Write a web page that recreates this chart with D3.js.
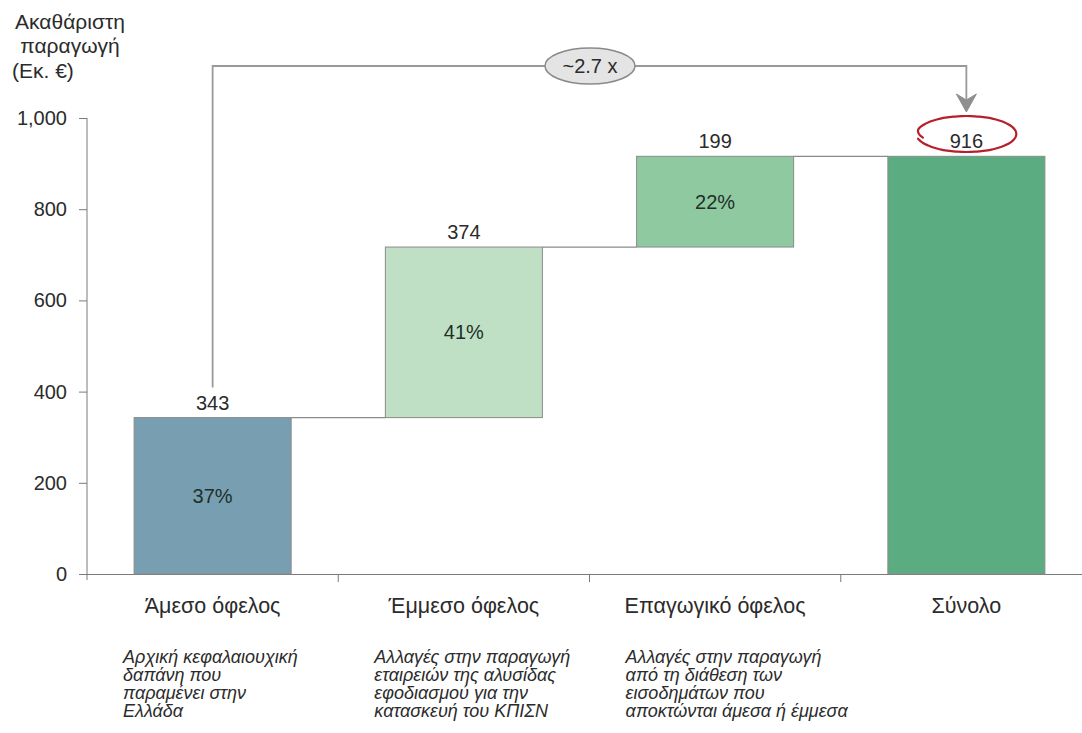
<!DOCTYPE html>
<html>
<head>
<meta charset="utf-8">
<script src="https://cdn.jsdelivr.net/npm/d3@7"></script>
<style>
  html, body { margin: 0; padding: 0; background: #fff; }
  svg { display: block; font-family: "Liberation Sans", Arial, sans-serif; }
</style>
</head>
<body>
<svg id="chart" width="1082" height="733"></svg>
<script>
const categories = ["Άμεσο όφελος", "Έμμεσο όφελος", "Επαγωγικό όφελος", "Σύνολο"];
const values = [343, 374, 199, 916];
const isTotal = [false, false, false, true];
const shares = ["37%", "41%", "22%", ""];
const barColors = ["#789fb1", "#bfe0c5", "#8fc9a0", "#5bad81"];
const descriptions = [
  ["Αρχική κεφαλαιουχική", "δαπάνη που", "παραμένει στην", "Ελλάδα"],
  ["Αλλαγές στην παραγωγή", "εταιρειών της αλυσίδας", "εφοδιασμού για την", "κατασκευή του ΚΠΙΣΝ"],
  ["Αλλαγές στην παραγωγή", "από τη διάθεση των", "εισοδημάτων που", "αποκτώνται άμεσα ή έμμεσα"],
  []
];
const yTicks = [0, 200, 400, 600, 800, 1000];
const yTitle = ["Ακαθάριστη", "παραγωγή", "(Εκ. €)"];
const multiplierLabel = "~2.7 x";

const svg = d3.select("#chart");
const x = d3.scaleBand().domain(categories).range([87, 1092]).paddingInner(0.375).paddingOuter(0.1875);
const y = d3.scaleLinear().domain([0, 1000]).range([574, 118]);

// compute waterfall bases
let cum = 0;
const bars = categories.map((c, i) => {
  let base, top;
  if (isTotal[i]) { base = 0; top = values[i]; }
  else { base = cum; top = cum + values[i]; cum = top; }
  return { cat: c, base, top, value: values[i], share: shares[i], color: barColors[i], desc: descriptions[i] };
});

const textColor = "#2b2b2b";
const axisColor = "#7a7a7a";

// Y axis
const yAxis = svg.append("g").attr("transform", "translate(87,0)")
  .call(d3.axisLeft(y).tickValues(yTicks).tickFormat(d3.format(",")).tickSize(8).tickPadding(12));
yAxis.select(".domain").attr("stroke", axisColor).attr("d", "M0,118V580");
yAxis.selectAll(".tick line").attr("stroke", axisColor);
yAxis.selectAll(".tick text").attr("fill", textColor).style("font-size", "20px").style("font-family", "Liberation Sans, Arial, sans-serif");

// X axis line with boundary ticks
svg.append("line").attr("x1", 87).attr("x2", 1082).attr("y1", 574.5).attr("y2", 574.5).attr("stroke", axisColor);
const step = x.step();
categories.slice(0, -1).forEach((c, i) => {
  const bx = x(c) + x.bandwidth() + (step - x.bandwidth()) / 2;
  svg.append("line").attr("x1", bx).attr("x2", bx).attr("y1", 574).attr("y2", 582).attr("stroke", axisColor);
});

// Y title
svg.append("text").attr("x", 70).attr("y", 29).attr("text-anchor", "middle").attr("fill", textColor).style("font-size", "21px").text(yTitle[0]);
svg.append("text").attr("x", 70).attr("y", 53).attr("text-anchor", "middle").attr("fill", textColor).style("font-size", "21px").text(yTitle[1]);
svg.append("text").attr("x", 12).attr("y", 78).attr("text-anchor", "start").attr("fill", textColor).style("font-size", "21px").text(yTitle[2]);

// connectors
bars.forEach((b, i) => {
  if (i < bars.length - 1) {
    svg.append("line")
      .attr("x1", x(b.cat) + x.bandwidth()).attr("x2", x(bars[i + 1].cat))
      .attr("y1", y(b.top)).attr("y2", y(b.top))
      .attr("stroke", "#8a8a8a").attr("stroke-width", 1.2);
  }
});

// bars
svg.selectAll("rect.bar").data(bars).join("rect").attr("class", "bar")
  .attr("x", d => x(d.cat)).attr("width", x.bandwidth())
  .attr("y", d => y(d.top)).attr("height", d => y(d.base) - y(d.top))
  .attr("fill", d => d.color).attr("stroke", "#8a8a8a").attr("stroke-width", 1);

// value labels
svg.selectAll("text.val").data(bars).join("text").attr("class", "val")
  .attr("x", d => x(d.cat) + x.bandwidth() / 2).attr("y", d => y(d.top) - 8)
  .attr("text-anchor", "middle").attr("fill", textColor).style("font-size", "20px")
  .text(d => d3.format(",")(d.value));

// share labels
svg.selectAll("text.share").data(bars.filter(d => d.share)).join("text").attr("class", "share")
  .attr("x", d => x(d.cat) + x.bandwidth() / 2).attr("y", d => (y(d.top) + y(d.base)) / 2 + 7)
  .attr("text-anchor", "middle").attr("fill", "#1f2f2a").style("font-size", "20px")
  .text(d => d.share);

// category labels
svg.selectAll("text.cat").data(bars).join("text").attr("class", "cat")
  .attr("x", d => x(d.cat) + x.bandwidth() / 2).attr("y", 613)
  .attr("text-anchor", "middle").attr("fill", textColor).style("font-size", "21.5px")
  .text(d => d.cat);

// descriptions
bars.forEach(b => {
  const t = svg.append("text").attr("fill", textColor).style("font-size", "18px").style("font-style", "italic");
  b.desc.forEach((line, k) => {
    t.append("tspan").attr("x", x(b.cat) - 11).attr("y", 663 + k * 18).text(line);
  });
});

// multiplier bracket
const x0 = x(categories[0]) + x.bandwidth() / 2;
const x3 = x(categories[3]) + x.bandwidth() / 2;
const bracketY = 66;
svg.append("path")
  .attr("d", `M${x0},${y(bars[0].top) - 30}V${bracketY}H${x3}V${100}`)
  .attr("fill", "none").attr("stroke", "#999").attr("stroke-width", 1.8);
svg.append("path")
  .attr("d", `M${x3},${112} L${x3 - 10},${94} L${x3},${100} L${x3 + 10},${94} Z`)
  .attr("fill", "#8f8f8f").attr("stroke", "#8f8f8f").attr("stroke-width", 1).attr("stroke-linejoin", "round");
svg.append("ellipse").attr("cx", 590).attr("cy", bracketY).attr("rx", 45).attr("ry", 18)
  .attr("fill", "#e4e4e4").attr("stroke", "#8a8a8a").attr("stroke-width", 1.5);
svg.append("text").attr("x", 590).attr("y", bracketY + 7).attr("text-anchor", "middle")
  .attr("fill", textColor).style("font-size", "20px").text(multiplierLabel);

// red hand-drawn circle around total
const cx = x3, cy = 134, rx = 50, ry = 18;
const pts = d3.range(0, 361, 5).map(a => {
  const t = (a + 195) * Math.PI / 180;
  const shrink = a > 330 ? 1 - (a - 330) / 300 : 1;
  return [cx + rx * shrink * Math.cos(t), cy - ry * shrink * Math.sin(t) * (a > 330 ? 0.85 : 1)];
});
svg.append("path").attr("d", d3.line().curve(d3.curveBasis)(pts))
  .attr("fill", "none").attr("stroke", "#b5202a").attr("stroke-width", 2.2).attr("stroke-linecap", "round");
</script>
</body>
</html>
